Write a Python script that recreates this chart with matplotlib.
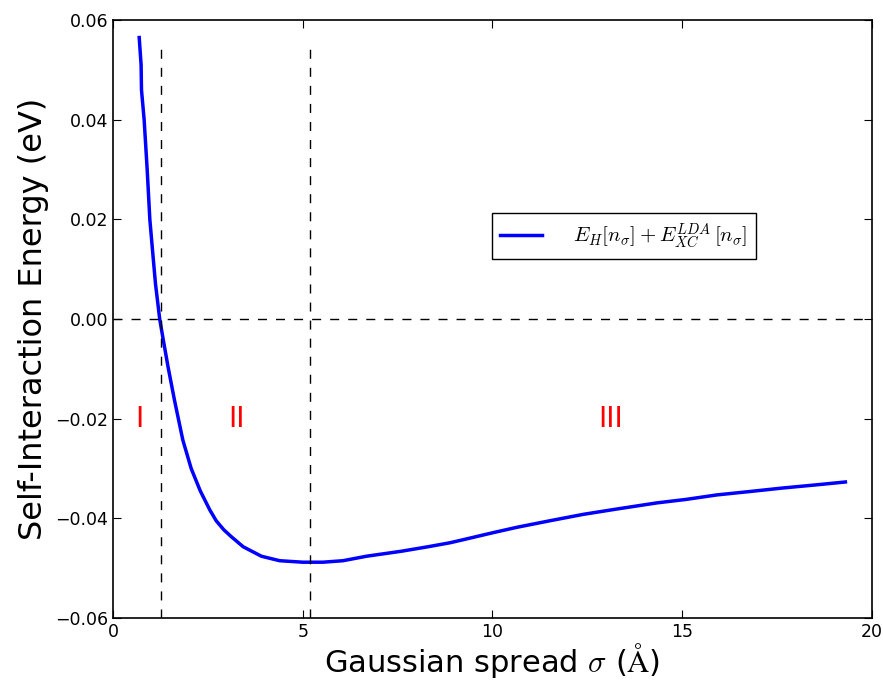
import numpy as np
import matplotlib
matplotlib.use("Agg")
import matplotlib.pyplot as plt

plt.rcParams['mathtext.fontset'] = 'cm'
plt.rcParams['font.family'] = 'DejaVu Sans'

# Self-interaction energy vs Gaussian spread
sigma = [0.69, 0.74, 0.75, 0.82, 0.90, 0.97, 1.05, 1.12, 1.23, 1.32, 1.45,
         1.62, 1.84, 2.06, 2.30, 2.55, 2.72, 2.92, 3.12, 3.43, 3.91, 4.39, 5.00,
         5.53, 6.06, 6.68, 7.60, 8.30, 8.88, 9.22, 10.0, 10.64, 11.5, 12.39,
         13.3, 14.33, 15.1, 15.91, 16.8, 17.66, 18.5, 19.3]
energy = [0.0565, 0.051, 0.046, 0.040, 0.030, 0.020, 0.013, 0.007, 0.0, -0.004, -0.0096,
          -0.0163, -0.0243, -0.0300, -0.0345, -0.0383, -0.0405, -0.0423, -0.0437, -0.0457, -0.0476, -0.0485, -0.0488,
          -0.0488, -0.0485, -0.0476, -0.0466, -0.0457, -0.0449, -0.0443, -0.0429, -0.0418, -0.0405, -0.0392,
          -0.0381, -0.0369, -0.0362, -0.0353, -0.0346, -0.0339, -0.0333, -0.0327]

# region boundaries and labels
boundaries = [1.27, 5.2]
region_labels = ['I', 'II', 'III']
region_x = [0.7, 3.25, 13.1]
region_y = -0.02

fig = plt.figure(figsize=(8.83, 6.81), dpi=100)
ax = fig.add_axes([0.128, 0.0925, 0.8595, 0.878])

ax.plot(sigma, energy, color='blue', lw=2.5,
        label=r'$E_H[n_\sigma] + E_{XC}^{LDA}\,[n_\sigma]$')
for b in boundaries:
    ax.plot([b, b], [-0.06, 0.055], color='k', ls='--', dashes=(6.5, 6.5), lw=1)
ax.axhline(0, color='k', ls='--', dashes=(6.5, 6.5), lw=1)

for lab, xx in zip(region_labels, region_x):
    ax.text(xx, region_y, lab, color='red', fontsize=20, ha='center', va='center')

ax.set_xlim(0, 20)
ax.set_ylim(-0.06, 0.06)
ax.set_xticks([0, 5, 10, 15, 20])
ax.set_yticks(np.arange(-0.06, 0.061, 0.02))
ax.yaxis.set_major_formatter(matplotlib.ticker.FuncFormatter(
    lambda v, p: ('%.2f' % v).replace('-', '\u2212')))
ax.tick_params(direction='in', top=True, right=True, labelsize=12.5, length=6)
for s in ax.spines.values():
    s.set_linewidth(1.2)
ax.set_xlabel(r'Gaussian spread $\sigma$ ($\mathrm{\AA}$)', fontsize=22, labelpad=0)
ax.set_ylabel('Self-Interaction Energy (eV)', fontsize=23)

leg = ax.legend(loc='upper left', bbox_to_anchor=(0.499, 0.677), borderaxespad=0,
                fontsize=15, fancybox=False, framealpha=1, handlelength=2,
                handletextpad=1.5)
leg.get_frame().set_edgecolor('black')

plt.savefig('out.png', dpi=100)
